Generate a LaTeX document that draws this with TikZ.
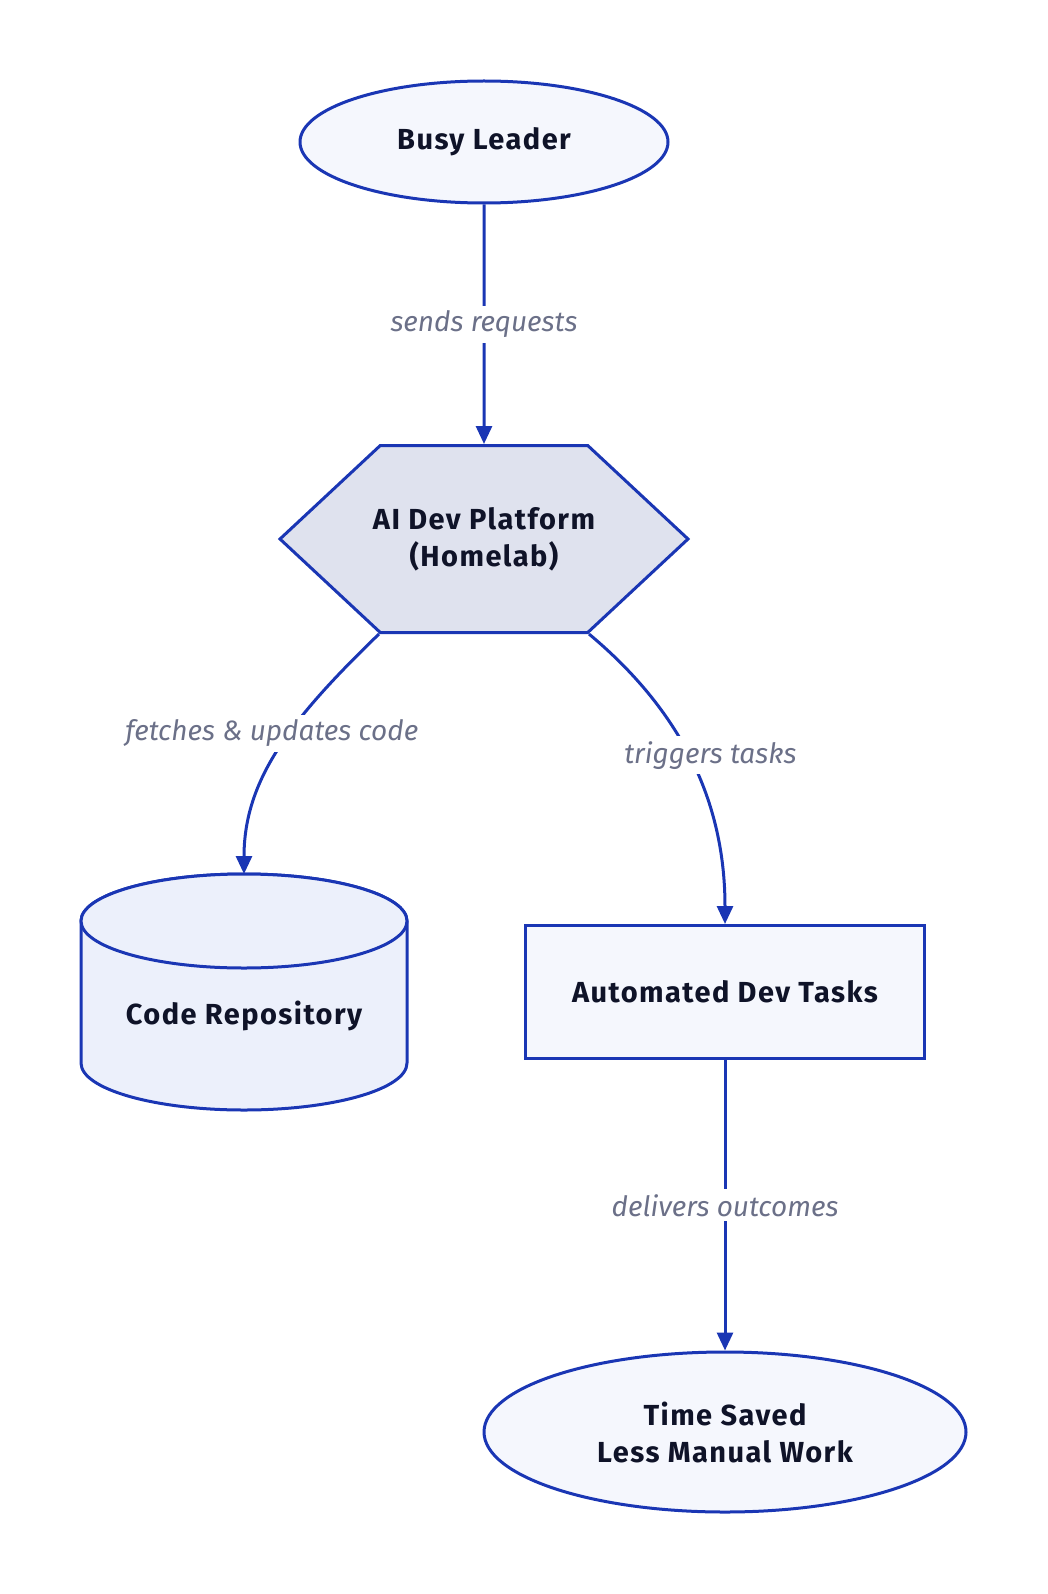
\documentclass[tikz,border=0pt]{standalone}
\usepackage{fontspec}
\setmainfont{Fira Sans}
\newfontfamily\spacedbold[LetterSpace=5]{Fira Sans}
\usepackage{tikz}
\usetikzlibrary{arrows.meta,positioning,calc,shapes.geometric,shapes.symbols}
\definecolor{edgeblue}{HTML}{1A36B4}
\definecolor{ink}{HTML}{0F1328}
\definecolor{softfill}{HTML}{F5F7FD}
\definecolor{hexfill}{HTML}{DFE2EE}
\definecolor{dbfill}{HTML}{ECF0FB}
\definecolor{lblgray}{HTML}{6B7088}

\begin{document}
\begin{tikzpicture}[x=1pt,y=-1pt,
  every node/.style={font=\spacedbold\fontsize{29}{37}\selectfont\bfseries,text=ink,align=center},
  term/.style={ellipse,draw=edgeblue,line width=3pt,fill=softfill,inner sep=0pt},
  hexa/.style={signal,signal to=west and east,signal pointer angle=86,draw=edgeblue,line width=3pt,fill=hexfill,inner ysep=0pt,inner xsep=-8pt,minimum width=408pt,minimum height=187pt},
  db/.style={draw=edgeblue,line width=3pt,fill=dbfill},
  dbtext/.style={inner sep=0pt,minimum width=326pt,minimum height=284pt},
  task/.style={rectangle,draw=edgeblue,line width=3pt,fill=softfill,inner sep=0pt,minimum width=399pt,minimum height=133pt},
  lbl/.style={font=\fontsize{28}{32}\selectfont\itshape\mdseries,text=lblgray,fill=white,inner sep=5pt},
  e/.style={-{Triangle[length=18pt,width=16pt]},line width=3pt,draw=edgeblue}]
 \useasboundingbox (0,0) rectangle (1048,1594);
 \node[term,minimum width=368pt,minimum height=122pt] (leader) at (484,142) {Busy Leader};
 \node[hexa] (plat) at (484,539) {AI Dev Platform\\(Homelab)};
 % cylinder for the repository
 \coordinate (repotop) at (244,874);
 \filldraw[db] ($(repotop)+(-163,47)$) -- ++(0,142) arc[start angle=180,end angle=0,x radius=163,y radius=47] -- ++(0,-142) arc[start angle=0,end angle=-180,x radius=163,y radius=47] -- cycle;
 \draw[db] ($(repotop)+(0,47)$) ellipse[x radius=163,y radius=47];
 \node[dbtext,anchor=north] (repo) at (repotop) {Code Repository};
 \node[task] (tasks) at (725,992) {Automated Dev Tasks};
 \node[term,minimum width=482pt,minimum height=160pt] (saved) at (725,1432) {Time Saved\\Less Manual Work};
 \draw[e] (leader) -- node[lbl] {sends requests} (plat);
 \draw[e] ([xshift=-105pt]plat.south) .. controls (290,720) and (244,780) .. (repo.north) node[lbl,pos=0.42,xshift=-18pt] {fetches \& updates code};
 \draw[e] ([xshift=105pt]plat.south) .. controls (680,710) and (725,800) .. (tasks.north) node[lbl,pos=0.48,xshift=22pt] {triggers tasks};
 \draw[e] (tasks) -- node[lbl] {delivers outcomes} (saved);
\end{tikzpicture}
\end{document}
